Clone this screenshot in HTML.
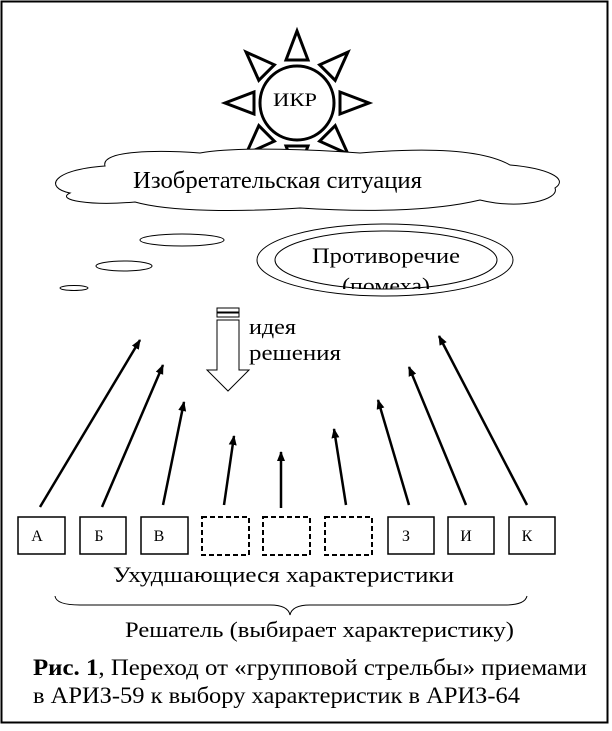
<!DOCTYPE html>
<html><head><meta charset="utf-8"><style>
body{margin:0;background:#fff}
svg text{font-family:"Liberation Serif",serif;fill:#000}
</style></head><body>
<svg width="612" height="726" viewBox="0 0 612 726" xmlns="http://www.w3.org/2000/svg">
<defs><marker id="ah" markerWidth="10" markerHeight="10" refX="9" refY="5" orient="auto" markerUnits="userSpaceOnUse"><path d="M0,1 L10,5 L0,9 Z" fill="#000"/></marker></defs>
<rect x="1.5" y="1.5" width="606" height="721" fill="#fff" stroke="#000" stroke-width="2"/>
<g transform="translate(297,103)" fill="#fff" stroke="#000" stroke-width="3">
<circle r="37"/>
<g id="t"><path d="M-11,-43 L11,-43 L0,-72 Z"/></g>
<use href="#t" transform="rotate(45)"/><use href="#t" transform="rotate(90)"/><use href="#t" transform="rotate(135)"/>
<use href="#t" transform="rotate(180)"/><use href="#t" transform="rotate(225)"/><use href="#t" transform="rotate(270)"/><use href="#t" transform="rotate(315)"/>
</g>
<text x="273" y="106" font-size="19" textLength="44" lengthAdjust="spacingAndGlyphs">ИКР</text>
<path d="M105,166 C100,150 160,150 200,153 C240,146 320,150 360,153 C420,148 480,148 510,165 C545,168 570,178 555,188 C560,200 520,210 480,200 C430,212 360,212 300,208 C240,212 170,212 135,202 C90,206 55,200 70,193 C45,188 50,170 105,166 Z" fill="#fff" stroke="#000" stroke-width="1"/>
<text x="133" y="188" font-size="24" textLength="289" lengthAdjust="spacingAndGlyphs">Изобретательская ситуация</text>
<ellipse cx="182" cy="240" rx="42" ry="6" fill="none" stroke="#000"/>
<ellipse cx="124" cy="266" rx="28" ry="5" fill="none" stroke="#000"/>
<ellipse cx="74" cy="288" rx="14" ry="2.5" fill="none" stroke="#000"/>
<ellipse cx="385" cy="260" rx="128" ry="36" fill="none" stroke="#000"/>
<ellipse cx="386" cy="260" rx="111" ry="29" fill="none" stroke="#000"/>
<text x="312" y="263" font-size="22" textLength="148" lengthAdjust="spacingAndGlyphs">Противоречие</text>
<clipPath id="c"><rect x="0" y="0" width="612" height="289"/></clipPath>
<text x="342" y="293" font-size="22" textLength="88" lengthAdjust="spacingAndGlyphs" clip-path="url(#c)">(помеха)</text>
<g fill="#fff" stroke="#000" stroke-width="1">
<rect x="217" y="308" width="22" height="4"/><rect x="217" y="313" width="22" height="4"/>
<path d="M217,320 L239,320 L239,370 L249,370 L228,391 L207,370 L217,370 Z"/>
</g>
<text x="249" y="334" font-size="22" textLength="47" lengthAdjust="spacingAndGlyphs">идея</text>
<text x="249" y="360" font-size="22" textLength="92" lengthAdjust="spacingAndGlyphs">решения</text>
<g stroke="#000" stroke-width="2.5" marker-end="url(#ah)">
<line x1="40" y1="507" x2="140" y2="340"/>
<line x1="102" y1="507" x2="163" y2="365"/>
<line x1="163" y1="505" x2="184" y2="402"/>
<line x1="224" y1="505" x2="234" y2="436"/>
<line x1="281" y1="508" x2="281" y2="452"/>
<line x1="346" y1="505" x2="334" y2="429"/>
<line x1="409" y1="505" x2="378" y2="400"/>
<line x1="466" y1="505" x2="409" y2="367"/>
<line x1="527" y1="505" x2="439" y2="336"/>
</g>
<g fill="#fff" stroke="#000" stroke-width="1.5">
<rect x="18" y="517" width="47" height="37"/><rect x="80" y="517" width="46" height="37"/><rect x="141" y="517" width="47" height="37"/>
<rect x="388" y="517" width="46" height="37"/><rect x="448" y="517" width="46" height="37"/><rect x="509" y="517" width="46" height="37"/>
</g>
<g fill="#fff" stroke="#000" stroke-width="2" stroke-dasharray="5,3">
<rect x="202" y="517" width="47" height="38"/><rect x="263" y="517" width="47" height="38"/><rect x="325" y="517" width="47" height="38"/>
</g>
<g font-size="16" text-anchor="middle">
<text x="37" y="541">А</text><text x="99" y="541">Б</text><text x="159" y="541">В</text>
<text x="406" y="541">З</text><text x="466" y="541">И</text><text x="527" y="541">К</text>
</g>
<text x="113" y="582" font-size="22" textLength="341" lengthAdjust="spacingAndGlyphs">Ухудшающиеся характеристики</text>
<path d="M55,596 Q56,605 80,605 L270,605 Q288,605 290,615 Q292,605 310,605 L505,605 Q525,605 527,596" fill="none" stroke="#000"/>
<text x="125" y="637" font-size="22" textLength="389" lengthAdjust="spacingAndGlyphs">Решатель (выбирает характеристику)</text>
<text x="33" y="675" font-size="23" textLength="554" lengthAdjust="spacingAndGlyphs"><tspan font-weight="bold">Рис. 1</tspan>, Переход от «групповой стрельбы» приемами</text>
<text x="33" y="703" font-size="23" textLength="487" lengthAdjust="spacingAndGlyphs">в АРИЗ-59 к выбору характеристик в АРИЗ-64</text>
</svg>
</body></html>
